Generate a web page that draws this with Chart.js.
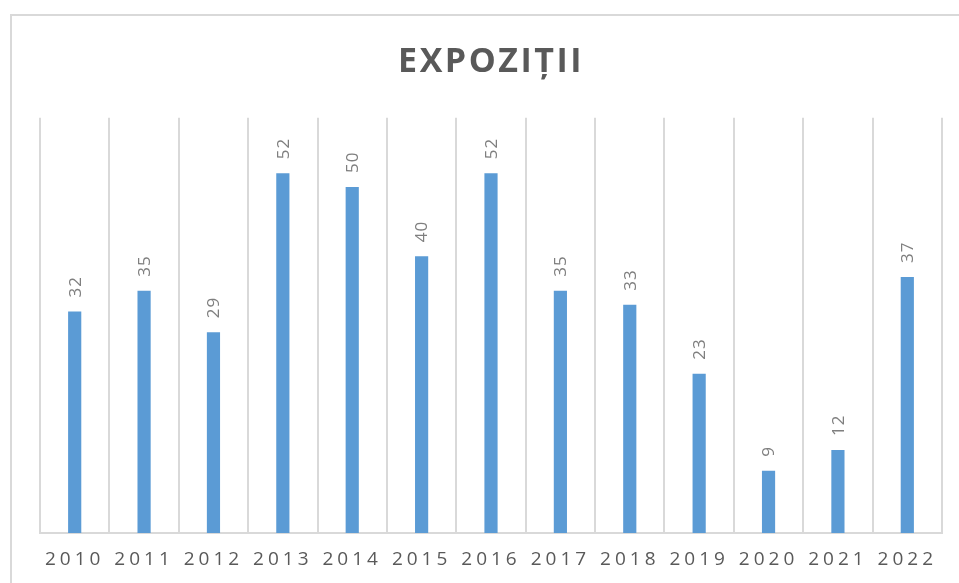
<!DOCTYPE html>
<html>
<head>
<meta charset="utf-8">
<script src="https://cdn.jsdelivr.net/npm/chart.js@4/dist/chart.umd.min.js"></script>
<style>
  html, body { margin: 0; padding: 0; background: #ffffff; }
  #wrap { position: relative; width: 959px; height: 583px; overflow: hidden; }
  #frame {
    position: absolute; left: 10px; top: 14px; width: 1000px; height: 620px;
    border: 2px solid #d9d9d9; box-sizing: border-box;
  }
  canvas { position: absolute; left: 0; top: 0; }
</style>
</head>
<body>
<div id="wrap">
  <div id="frame"></div>
  <canvas id="chart" width="959" height="583"></canvas>
</div>
<script>
// date
const years = ["2010", "2011", "2012", "2013", "2014", "2015", "2016",
               "2017", "2018", "2019", "2020", "2021", "2022"];
const expozitii = [32, 35, 29, 52, 50, 40, 52, 35, 33, 23, 9, 12, 37];
const chartTitle = "EXPOZIȚII";

const FONT = "'Open Sans', Lato, sans-serif";

// spatiere intre litere: titlu 2.5px, axa X 4px
const spacingPlugin = {
  id: "spacing",
  beforeDraw(chart) {
    chart.ctx.letterSpacing = "2.5px";
    const x = chart.scales.x;
    if (x && !x._spaced) {
      const orig = x.drawLabels.bind(x);
      x.drawLabels = function (area) {
        const ctx = chart.ctx;
        const prev = ctx.letterSpacing;
        ctx.letterSpacing = "4px";
        orig(area);
        ctx.letterSpacing = prev;
      };
      x._spaced = true;
    }
  }
};

// etichete valori, rotite vertical deasupra barelor
const valueLabels = {
  id: "valueLabels",
  afterDatasetsDraw(chart) {
    const ctx = chart.ctx;
    const meta = chart.getDatasetMeta(0);
    const data = chart.data.datasets[0].data;
    ctx.save();
    ctx.letterSpacing = "1px";
    ctx.font = "17px " + FONT;
    ctx.fillStyle = "#7f7f7f";
    ctx.textAlign = "left";
    ctx.textBaseline = "middle";
    meta.data.forEach((bar, i) => {
      ctx.save();
      ctx.translate(bar.x, bar.y - 14);
      ctx.rotate(-Math.PI / 2);
      ctx.fillText(String(data[i]), 0, 1);
      ctx.restore();
    });
    ctx.restore();
  }
};

new Chart(document.getElementById("chart"), {
  type: "bar",
  data: {
    labels: years,
    datasets: [{
      label: chartTitle,
      data: expozitii,
      backgroundColor: "#5b9bd5",
      barPercentage: 0.19,
      categoryPercentage: 1.0
    }]
  },
  options: {
    responsive: false,
    animation: false,
    layout: { padding: { left: 40, right: 17, top: 0, bottom: 0 } },
    plugins: {
      legend: { display: false },
      tooltip: { enabled: false },
      title: {
        display: true,
        text: chartTitle,
        color: "#595959",
        font: { family: FONT, size: 34, weight: "bold" },
        padding: { top: 42, bottom: 35 }
      }
    },
    scales: {
      x: {
        grid: { offset: true, color: "#d9d9d9", lineWidth: 2, drawTicks: false },
        border: { color: "#d9d9d9", width: 2 },
        ticks: {
          color: "#595959",
          font: { family: FONT, size: 19 },
          padding: 15,
          maxRotation: 0
        },
        afterFit(scale) { scale.height = 50; }
      },
      y: {
        display: false,
        min: 0,
        max: 60
      }
    }
  },
  plugins: [spacingPlugin, valueLabels]
});
</script>
</body>
</html>
